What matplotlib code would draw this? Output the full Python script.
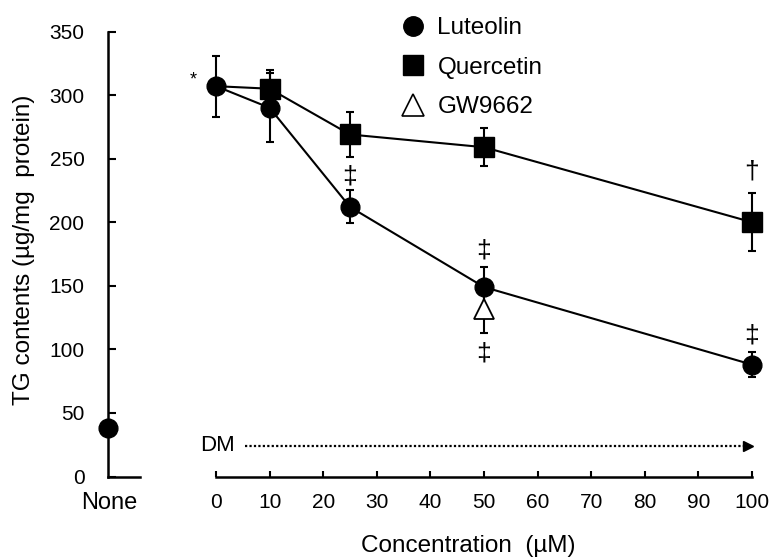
import matplotlib
matplotlib.use("Agg")
import matplotlib.pyplot as plt
from matplotlib.lines import Line2D

plt.rcParams['font.family'] = ['Liberation Sans', 'DejaVu Sans']

# ---- data ----
conc = [0, 10, 25, 50, 100]
none_value = 38
luteolin = [307, 290, 212, 149, 88]
luteolin_err = [24, 27, 13, 16, 10]
quercetin = [307, 305, 269, 259, 200]
quercetin_err = [24, 15, 18, 15, 23]
gw_conc = [50]
gw9662 = [132]
gw_err = [19]
yticks = [0, 50, 100, 150, 200, 250, 300, 350]
xticks = [0, 10, 20, 30, 40, 50, 60, 70, 80, 90, 100]

W, H = 772, 559
fig = plt.figure(figsize=(W / 100, H / 100), dpi=100)

bottom = 82.5 / H
height = 445 / H
ax1 = fig.add_axes([108 / W, bottom, 32 / W, height])
ax2 = fig.add_axes([216 / W, bottom, 536 / W, height])

spine_lw = 1.8
lw = 1.5

# ---- left "None" panel ----
for s in ['top', 'right']:
    ax1.spines[s].set_visible(False)
for s in ['left', 'bottom']:
    ax1.spines[s].set_linewidth(spine_lw)
ax1.set_xlim(0, 1)
ax1.set_ylim(0, 350)
ax1.set_yticks(yticks)
ax1.set_yticklabels([str(v) for v in yticks], fontsize=15)
ax1.tick_params(axis='y', direction='in', length=6, width=1.5, pad=17)
ax1.set_xticks([0.05])
ax1.set_xticklabels(['None'], fontsize=17)
ax1.tick_params(axis='x', length=0, pad=11)
ax1.plot([0], [none_value], 'o', color='black', ms=13.5, clip_on=False, zorder=5)

# ---- right concentration panel ----
for s in ['top', 'right', 'left']:
    ax2.spines[s].set_visible(False)
ax2.spines['bottom'].set_linewidth(spine_lw)
ax2.set_xlim(0, 100)
ax2.set_ylim(0, 350)
ax2.set_yticks([])
ax2.set_xticks(xticks)
ax2.set_xticklabels([str(v) for v in xticks], fontsize=15)
ax2.tick_params(axis='x', direction='in', length=4, width=1.5, pad=12)

# Quercetin line (no marker at shared control point)
ax2.errorbar(conc[1:], quercetin[1:], yerr=quercetin_err[1:], fmt='none',
             ecolor='black', elinewidth=lw, capsize=3, capthick=lw,
             clip_on=False, zorder=3)
ax2.plot(conc, quercetin, '-', color='black', lw=lw, clip_on=False, zorder=2)
ax2.plot(conc[1:], quercetin[1:], 's', color='black', ms=14, clip_on=False, zorder=4)

# Luteolin
ax2.errorbar(conc, luteolin, yerr=luteolin_err, fmt='none',
             ecolor='black', elinewidth=lw, capsize=3, capthick=lw,
             clip_on=False, zorder=3)
ax2.plot(conc, luteolin, '-o', color='black', lw=lw, ms=13.5, clip_on=False, zorder=4)

# GW9662
ax2.errorbar(gw_conc, gw9662, yerr=gw_err, fmt='none',
             ecolor='black', elinewidth=lw, capsize=3, capthick=lw,
             clip_on=False, zorder=3)
ax2.plot(gw_conc, gw9662, '^', mfc='white', mec='black', mew=1.3, ms=14.5,
         clip_on=False, zorder=5)

# significance marks
sig = dict(fontsize=19, ha='center', va='center')
ax2.text(-4.2, 312, '*', fontsize=13, ha='center', va='center')
ax2.text(25, 236, '‡', **sig)
ax2.text(50, 178, '‡', **sig)
ax2.text(50, 97, '‡', **sig)
ax2.text(100, 111, '‡', **sig)
ax2.text(100, 240, '†', **sig)

# DM dotted arrow
ax2.text(-3.0, 24, 'DM', fontsize=16, ha='left', va='center')
ax2.plot([5.4, 99.0], [24, 24], color='black', lw=1.6, ls=(0, (1, 1)),
         clip_on=False)
ax2.plot([99.3], [24], marker='>', color='black', ms=7, clip_on=False)

# legend
handles = [
    Line2D([], [], ls='none', marker='o', color='black', ms=14),
    Line2D([], [], ls='none', marker='s', color='black', ms=14),
    Line2D([], [], ls='none', marker='^', mfc='white', mec='black', mew=1.2, ms=16),
]
fig.legend(handles, ['Luteolin', 'Quercetin', 'GW9662'], loc='upper left',
           bbox_to_anchor=(401 / W, 1 - 17 / H), frameon=False, fontsize=17.5,
           handlelength=1.0, handletextpad=0.5, labelspacing=0.72,
           borderpad=0, borderaxespad=0)

# axis labels
fig.text(24 / W, 1 - 250 / H, 'TG contents (µg/mg  protein)', rotation=90,
         fontsize=17.5, ha='center', va='center')
fig.text(468 / W, 1 - 546 / H, 'Concentration  (µM)', fontsize=17.5,
         ha='center', va='center')

fig.savefig('out.png', dpi=100)
